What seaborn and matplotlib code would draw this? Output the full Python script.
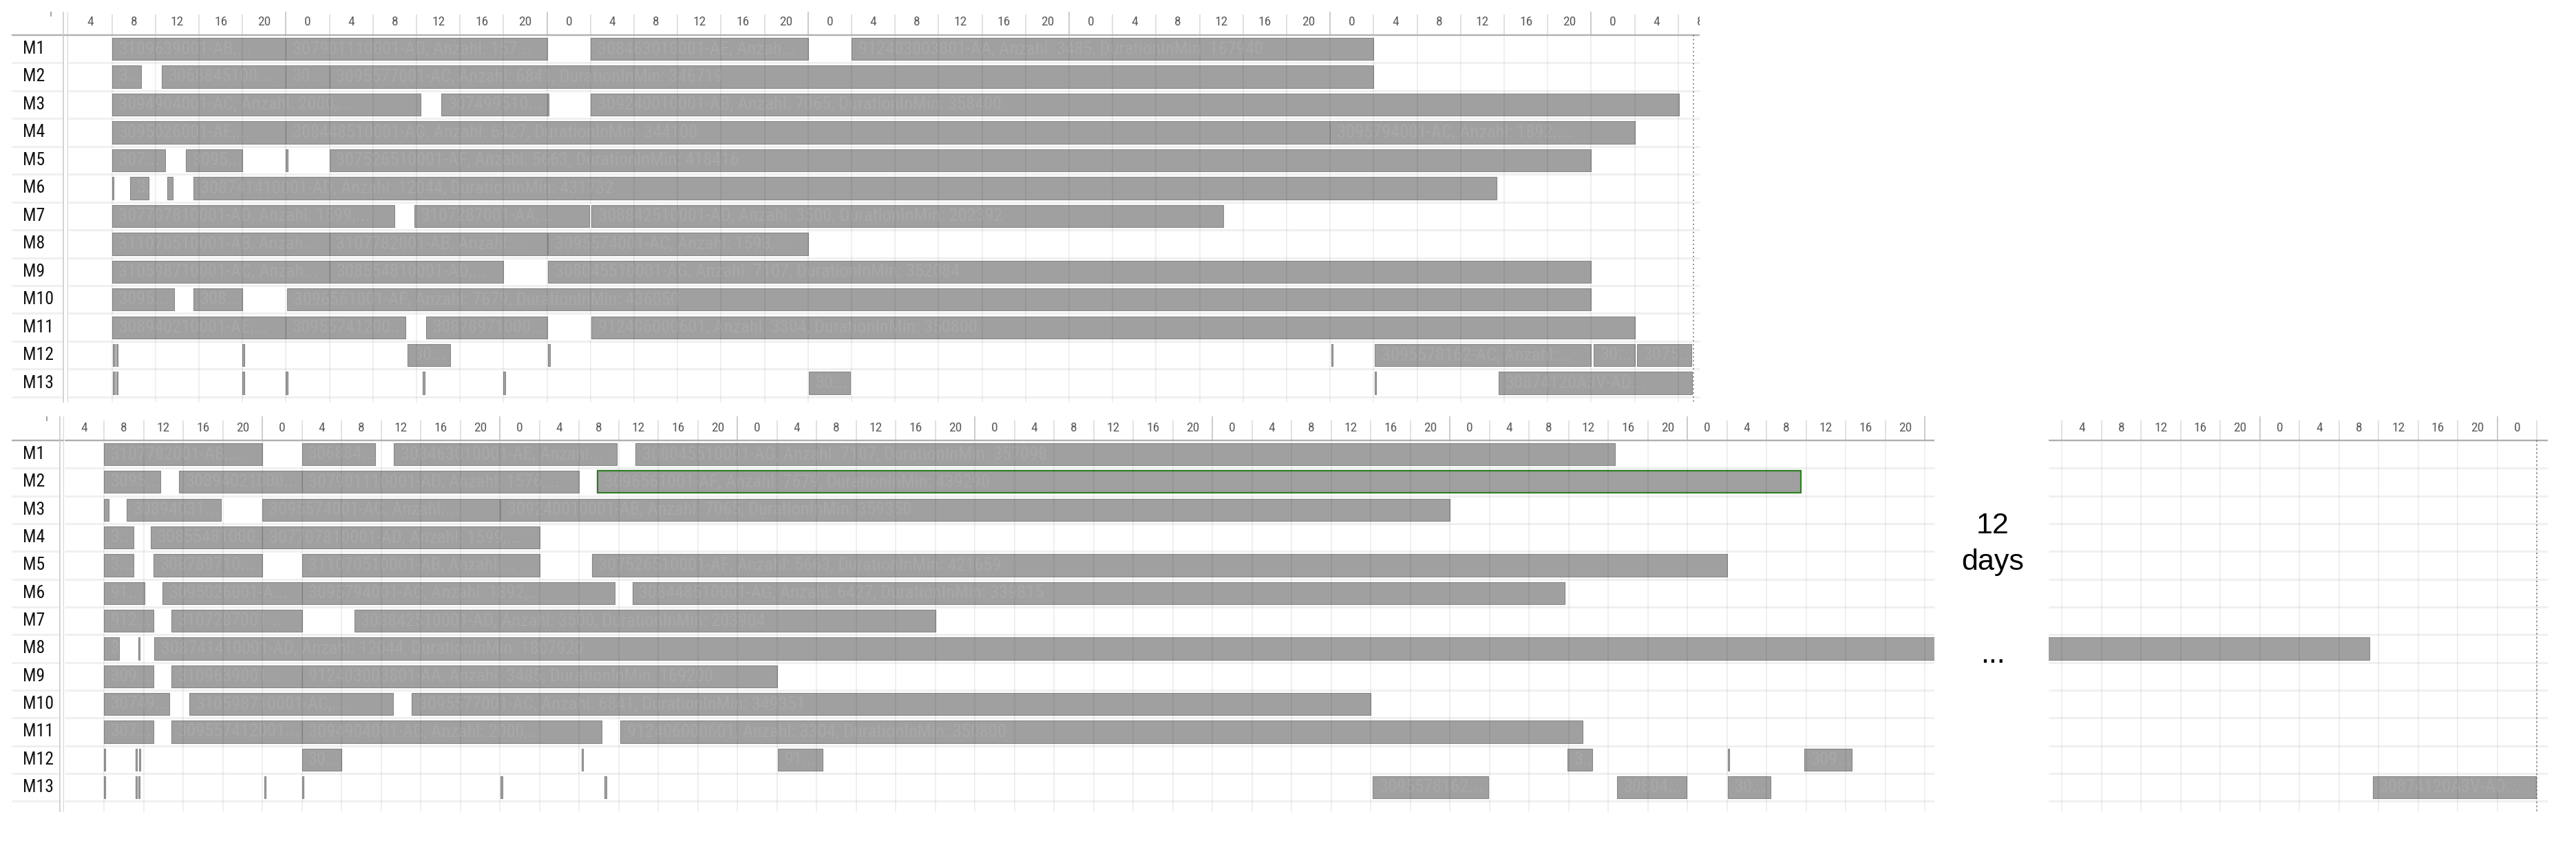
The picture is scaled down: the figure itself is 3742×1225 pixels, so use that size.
import numpy as np
import pandas as pd
import matplotlib
matplotlib.use("Agg")
import matplotlib.pyplot as plt
from matplotlib import font_manager
import seaborn as sns

# Machines (rows)
machines = ["M1", "M2", "M3", "M4", "M5", "M6", "M7", "M8", "M9", "M10", "M11", "M12", "M13"]

# Header cells are 4 hours wide, labelled with the hour of day
step_hours = 4

# Jobs: (machine, start hour, end hour, bar text); hours counted from day 0, 00:00
top_bars = [
    ("M1", 8, 24, "3109639001-AB,..."),
    ("M1", 24, 48, "307901110001-AD, Anzahl: 157..."),
    ("M1", 52, 72, "308463010001-AE, Anzah..."),
    ("M1", 76, 124, "912403003801-AA, Anzahl: 3485, DurationInMin: 167940"),
    ("M2", 8, 10.7, "3..."),
    ("M2", 12.6, 24, "3068845100..."),
    ("M2", 24, 28, "30..."),
    ("M2", 28, 124, "3095577001-AC, Anzahl: 6841, DurationInMin: 346719"),
    ("M3", 8, 36.4, "3094904001-AC, Anzahl: 2000,..."),
    ("M3", 38.3, 48, "307499510..."),
    ("M3", 48, 48.15, ""),
    ("M3", 52, 152.1, "309240010001-AB, Anzahl: 7065, DurationInMin: 358400"),
    ("M4", 8, 24, "3095026001-AE,..."),
    ("M4", 24, 120, "308448510001-AG, Anzahl: 6427, DurationInMin: 344100"),
    ("M4", 120, 148, "3095794001-AC, Anzahl: 1892,..."),
    ("M5", 8, 12.9, "307..."),
    ("M5", 14.8, 20, "3095..."),
    ("M5", 24, 24.15, ""),
    ("M5", 28, 144, "307526510001-AF, Anzahl: 5663, DurationInMin: 418416"),
    ("M6", 8, 8.15, ""),
    ("M6", 9.7, 11.4, "3..."),
    ("M6", 13.1, 13.6, ""),
    ("M6", 15.5, 135.3, "308741410001-AD, Anzahl: 12044, DurationInMin: 431732"),
    ("M7", 8, 34, "307707810001-AD, Anzahl: 1599,..."),
    ("M7", 35.8, 51.9, "3107287001-AA,..."),
    ("M7", 52.1, 110.2, "308842510001-AD, Anzahl: 3500, DurationInMin: 202392"),
    ("M8", 8, 28, "311070510001-AB, Anzah..."),
    ("M8", 28, 48, "3107782001-AB, Anzahl:..."),
    ("M8", 48.1, 72, "3095574001-AC, Anzahl: 1598,..."),
    ("M9", 8, 28, "310598710001-AC, Anzah..."),
    ("M9", 28, 44, "308554810001-AD,..."),
    ("M9", 48.1, 144, "308045510001-AG, Anzahl: 7107, DurationInMin: 352084"),
    ("M10", 8, 13.7, "3095..."),
    ("M10", 15.5, 20, "308..."),
    ("M10", 24.1, 144, "3096561001-AF, Anzahl: 7679, DurationInMin: 436050"),
    ("M11", 8, 24, "308940210001-AE,..."),
    ("M11", 24, 35, "30955741200..."),
    ("M11", 36.9, 48, "30878971000..."),
    ("M11", 52.1, 148, "912406000601, Anzahl: 3304, DurationInMin: 350800"),
    ("M12", 8.1, 8.25, ""),
    ("M12", 8.4, 8.55, ""),
    ("M12", 20, 20.15, ""),
    ("M12", 35.2, 39.1, "30..."),
    ("M12", 48.1, 48.25, ""),
    ("M12", 120.1, 120.25, ""),
    ("M12", 124.1, 144, "3095578162-AC, Anzahl:..."),
    ("M12", 144.2, 148, "30..."),
    ("M12", 148.2, 153.2, "3075..."),
    ("M13", 8.1, 8.25, ""),
    ("M13", 8.4, 8.55, ""),
    ("M13", 20, 20.15, ""),
    ("M13", 24, 24.15, ""),
    ("M13", 36.6, 36.75, ""),
    ("M13", 44, 44.15, ""),
    ("M13", 72.1, 75.9, "30..."),
    ("M13", 124.1, 124.25, ""),
    ("M13", 135.5, 153.3, "30874120A3V-AD..."),
]

bottom_bars = [
    ("M1", 8, 24, "3107782001-AB,..."),
    ("M1", 28, 35.4, "306884..."),
    ("M1", 37.3, 59.8, "308463010001-AE, Anzahl..."),
    ("M1", 61.7, 160.7, "308045510001-AG, Anzahl: 7107, DurationInMin: 357098"),
    ("M2", 8, 13.7, "3095..."),
    ("M2", 15.6, 28, "30894021000..."),
    ("M2", 28, 56, "307901110001-AD, Anzahl: 1576,..."),
    ("M2", 57.9, 179.5, "3096561001-AF, Anzahl: 7679, DurationInMin: 439290"),
    ("M3", 8, 8.5, ""),
    ("M3", 10.3, 19.8, "30894031..."),
    ("M3", 24, 48, "3095574001-AC, Anzahl:..."),
    ("M3", 48.1, 144, "309240010001-AB, Anzahl: 7065, DurationInMin: 359350"),
    ("M4", 8, 11, "3..."),
    ("M4", 12.7, 24, "30855481000..."),
    ("M4", 24, 52, "307707810001-AD, Anzahl: 1599,..."),
    ("M5", 8, 11, "3..."),
    ("M5", 13, 24, "308789710..."),
    ("M5", 28, 52, "311070510001-AB, Anzahl:..."),
    ("M5", 57.3, 172, "307526510001-AF, Anzahl: 5663, DurationInMin: 421659"),
    ("M6", 8, 12.1, "91..."),
    ("M6", 13.9, 28, "3095026001-A..."),
    ("M6", 28, 59.6, "3095794001-AC, Anzahl: 1892,..."),
    ("M6", 61.4, 155.6, "308448510001-AG, Anzahl: 6427, DurationInMin: 339815"),
    ("M7", 8, 13, "912..."),
    ("M7", 14.8, 28, "3107287001..."),
    ("M7", 33.3, 92, "308842510001-AD, Anzahl: 3500, DurationInMin: 203904"),
    ("M8", 8, 9.5, "3..."),
    ("M8", 11.5, 11.65, ""),
    ("M8", 13.1, 200, "308741410001-AD, Anzahl: 12044, DurationInMin: 1807920"),
    ("M9", 8, 13, "309..."),
    ("M9", 14.8, 28, "3109639001..."),
    ("M9", 28, 76, "912403003801-AA, Anzahl: 3485, DurationInMin: 169200"),
    ("M10", 8, 14.6, "30749..."),
    ("M10", 16.6, 37.2, "310598710001-AC,..."),
    ("M10", 39.1, 136, "3095577001-AC, Anzahl: 6841, DurationInMin: 349351"),
    ("M11", 8, 13, "307..."),
    ("M11", 14.8, 28, "309557412001..."),
    ("M11", 28, 58.3, "3094904001-AC, Anzahl: 2000,..."),
    ("M11", 60.2, 157.4, "912406000601, Anzahl: 3304, DurationInMin: 350800"),
    ("M12", 8, 8.15, ""),
    ("M12", 11.2, 11.35, ""),
    ("M12", 11.55, 11.7, ""),
    ("M12", 28, 32, "30..."),
    ("M12", 56.3, 56.45, ""),
    ("M12", 76.1, 80.6, "91..."),
    ("M12", 155.9, 158.4, "3..."),
    ("M12", 172.1, 172.25, ""),
    ("M12", 179.8, 184.6, "309..."),
    ("M13", 8, 8.15, ""),
    ("M13", 11.2, 11.35, ""),
    ("M13", 11.5, 11.65, ""),
    ("M13", 24.2, 24.35, ""),
    ("M13", 28, 28.15, ""),
    ("M13", 48.1, 48.25, ""),
    ("M13", 58.6, 58.75, ""),
    ("M13", 136.2, 147.9, "3095578162..."),
    ("M13", 160.9, 167.9, "30804..."),
    ("M13", 172.1, 176.4, "30..."),
]

# last two days of the second schedule (after the 12 skipped days)
right_bars = [
    ("M8", 0, 35.1, ""),
    ("M13", 35.4, 51.9, "30874120A3V-AD..."),
]

selected_job = "3096561001-AF, Anzahl: 7679, DurationInMin: 439290"

sns.set_theme(style="white")
installed = {f.name for f in font_manager.fontManager.ttflist}
narrow = next((n for n in ["Liberation Sans Narrow", "DejaVu Sans Condensed",
                           "Roboto Condensed", "Open Sans Condensed"] if n in installed),
              "Liberation Sans")
plt.rcParams["font.family"] = [narrow, "Liberation Sans", "DejaVu Sans"]

W, H = 3742, 1225
fig = plt.figure(figsize=(W / 100, H / 100), dpi=100)
fig.patch.set_facecolor("white")


def box(left, right, top, bottom):
    return [left / W, 1 - bottom / H, (right - left) / W, (bottom - top) / H]


def draw_panel(ax, bars, t0, t1, y_top, y_bot, y_reg, label_y, dotted=None):
    df = pd.DataFrame(bars, columns=["machine", "start", "end", "text"])
    df["row"] = df["machine"].map({m: i for i, m in enumerate(machines)})
    ax.set_xlim(t0, t1)
    ax.set_ylim(y_bot, y_top)
    ax.set_axis_off()

    cells = np.arange(np.floor(t0 / step_hours) * step_hours, t1 + step_hours, step_hours)
    # row separators
    ax.hlines(np.arange(len(machines)) + 0.5, t0, t1, color="#f0f0f0", lw=2.2, zorder=0)

    # bars
    rects = ax.barh(df["row"], df["end"] - df["start"], left=df["start"], height=0.8,
                    color="#a0a0a0", edgecolor="#888888", lw=0.8, zorder=2)
    for patch, (_, r) in zip(rects, df.iterrows()):
        if r["text"] == selected_job:
            patch.set_edgecolor("#2f7d24")
            patch.set_linewidth(1.6)
        if r["text"]:
            t = ax.annotate(r["text"], xy=(max(r["start"], t0), r["row"]), xytext=(7, 0),
                            textcoords="offset points", ha="left", va="center",
                            fontsize=19, color="#a8a8a8", zorder=3)
            t.set_clip_path(patch)

    # vertical grid (over bars, faint)
    inner = cells[(cells > t0) & (cells < t1)]
    ax.vlines(inner, -0.5, y_bot, color="black", alpha=0.075, lw=1.1, zorder=4)

    # header
    for h in inner:
        is_day = (h % 24) == 0
        ax.vlines(h, y_top if is_day else y_reg, -0.5,
                  color="#bdbdbd" if is_day else "#d9d9d9", lw=1.1, zorder=1)
    for h in cells:
        if t0 <= h + step_hours / 2 <= t1:
            ax.text(h + step_hours / 2, label_y, f"{int(h % 24)}", ha="center", va="center",
                    fontsize=14, color="#5c5c5c", clip_on=True)
    ax.hlines(-0.5, t0, t1, color="#b0b0b0", lw=1.7, zorder=5)

    if dotted is not None:
        ax.vlines(dotted, -0.5, y_bot, color="#6a6a6a", lw=1.2, linestyles=(0, (1, 2.5)), zorder=6)


def draw_labels(ax, y_top, y_bot, x_line, x_mark, x_text):
    ax.set_xlim(0, 1)
    ax.set_ylim(y_bot, y_top)
    ax.set_axis_off()
    ax.hlines(np.arange(len(machines)) + 0.5, 0, x_line, color="#f0f0f0", lw=2.2)
    ax.hlines(-0.5, 0, 1, color="#b0b0b0", lw=1.7)
    ax.vlines([x_line, 0.995], y_top, y_bot, color="#c8c8c8", lw=1.1)
    ax.vlines(x_mark, y_top, y_top + 0.17, color="#9a9a9a", lw=1.3)
    for i, m in enumerate(machines):
        ax.text(x_text, i, m, ha="left", va="center", fontsize=18.5, color="#111111")


# Top schedule
ax_top = fig.add_axes(box(99.4, 2469.4, 17, 585))
draw_panel(ax_top, top_bars, 4, 154, -1.335, 12.70, -1.236, -0.96, dotted=153.4)
lab_top = fig.add_axes(box(17, 99.4, 17, 585))
draw_labels(lab_top, -1.335, 12.70, 0.91, 0.686, 0.194)

# Bottom schedule
ax_bot = fig.add_axes(box(93.5, 2810.4, 605, 1180))
draw_panel(ax_bot, bottom_bars, 4, 193, -1.364, 12.89, -1.215, -0.94)
lab_bot = fig.add_axes(box(17, 93.5, 605, 1180))
draw_labels(lab_bot, -1.364, 12.89, 0.915, 0.667, 0.209)

# Bottom schedule, last days
ax_end = fig.add_axes(box(2976, 3701, 605, 1180))
draw_panel(ax_end, right_bars, 2.66, 53.1, -1.364, 12.89, -1.215, -0.94, dotted=52)

big = ["Liberation Sans", "DejaVu Sans"]
fig.text(2895 / W, 1 - 764 / H, "12", ha="center", va="center", fontsize=31, family=big, color="black")
fig.text(2895 / W, 1 - 817 / H, "days", ha="center", va="center", fontsize=31, family=big, color="black")
fig.text(2895 / W, 1 - 963 / H, "...", ha="center", va="baseline", fontsize=31, family=big, color="black")

fig.savefig("out.png", dpi=100, facecolor="white")
